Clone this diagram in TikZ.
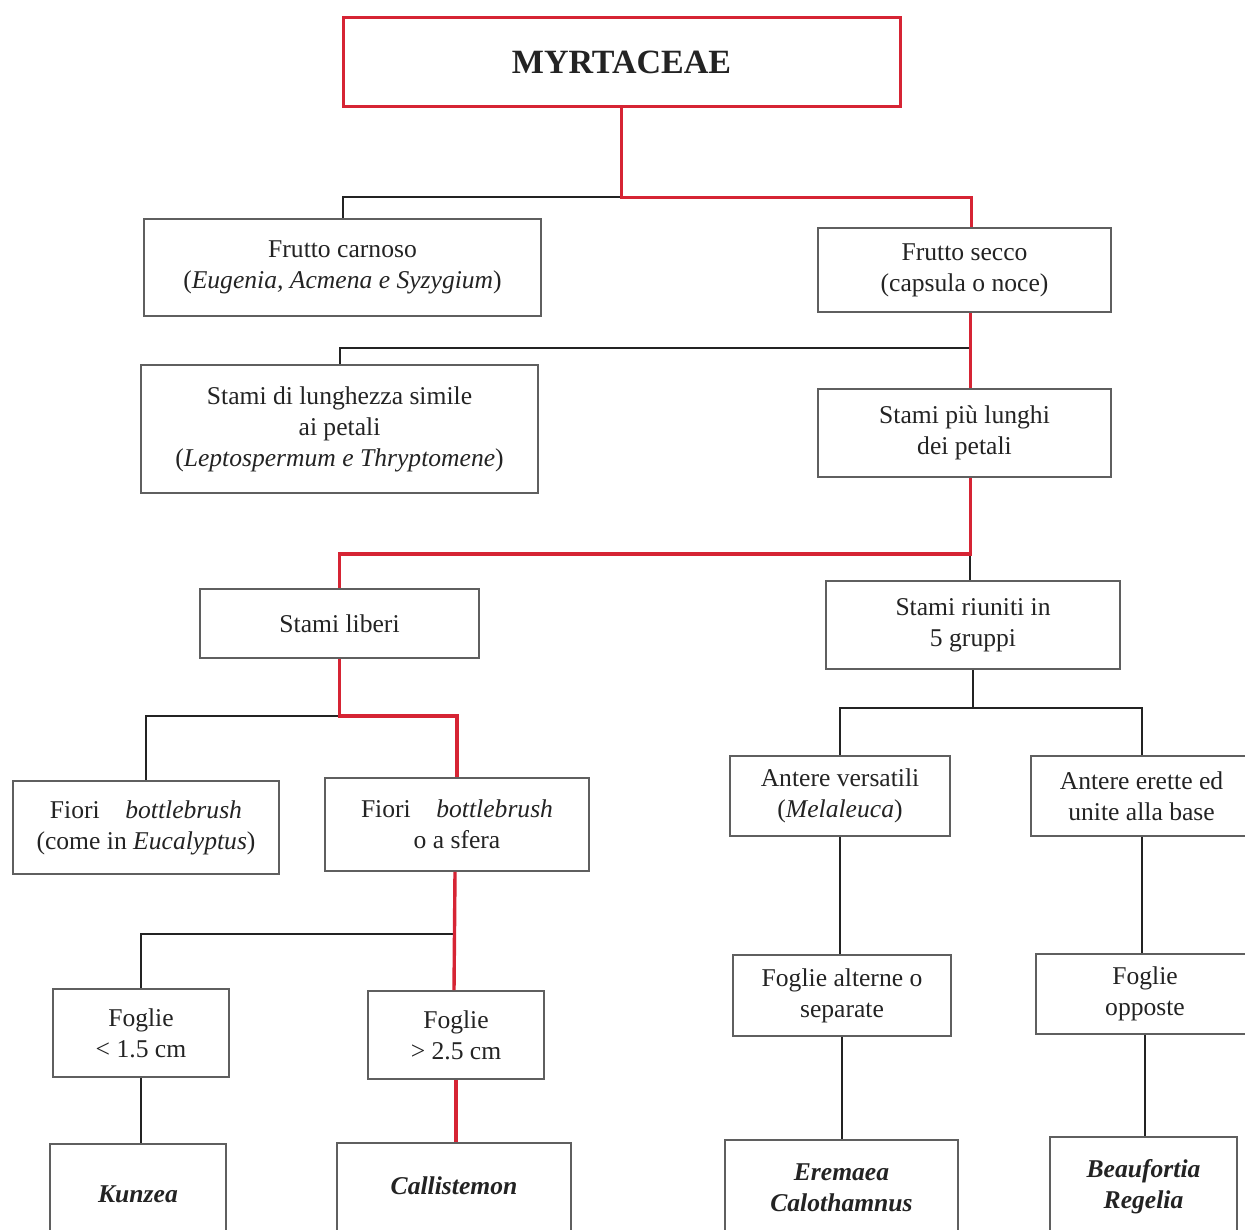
\documentclass[tikz,border=0pt]{standalone}
\usepackage{fontspec}
\setmainfont{Liberation Serif}
\definecolor{keyred}{RGB}{214,36,52}
\definecolor{boxgray}{RGB}{95,95,95}
\definecolor{inkgray}{RGB}{35,35,35}

\begin{document}
\begin{tikzpicture}[x=0.5pt, y=-0.5pt,
    box/.style={draw=boxgray, line width=0.9pt, rectangle, align=center, inner sep=0pt,
      text=inkgray, font=\fontsize{12.8}{15.5}\selectfont},
    genus/.style={box, font=\fontsize{12.8}{15.5}\selectfont\bfseries\itshape},
    redline/.style={draw=keyred, line width=1.7pt},
    blackline/.style={draw=inkgray, line width=1pt}]
  % Frame of the page, the last boxes run off the bottom
  \path[use as bounding box, clip] (0,0) rectangle (1245,1229);

  % Root
  \node[box, draw=keyred, line width=1.5pt, minimum width=278.5pt, minimum height=44.5pt,
    font=\fontsize{17}{20}\selectfont\bfseries] (root) at (621.5,62.5) {MYRTACEAE};

  % Fruit
  \node[box, minimum width=198.5pt, minimum height=48.5pt] (carnoso) at (342.5,267.5)
    {Frutto carnoso\\(\textit{Eugenia, Acmena e Syzygium})};
  \node[box, minimum width=146.5pt, minimum height=42pt] (secco) at (964.5,270)
    {Frutto secco\\(capsula o noce)};

  % Stamens
  \node[box, minimum width=198.5pt, minimum height=64pt] (simile) at (339.5,429)
    {Stami di lunghezza simile\\ai petali\\(\textit{Leptospermum e Thryptomene})};
  \node[box, minimum width=146.5pt, minimum height=44pt] (lunghi) at (964.5,433)
    {Stami più lunghi\\dei petali};
  \node[box, minimum width=139.5pt, minimum height=34.5pt] (liberi) at (339.5,623.5)
    {Stami liberi};
  \node[box, minimum width=147pt, minimum height=44pt] (riuniti) at (973,625)
    {Stami riuniti in\\5 gruppi};

  % Flowers and anthers
  \node[box, minimum width=133pt, minimum height=46.5pt] (eucal) at (146,827.5)
    {Fiori\quad\textit{bottlebrush}\\(come in \textit{Eucalyptus})};
  \node[box, minimum width=132pt, minimum height=46.5pt] (sfera) at (457,824.5)
    {Fiori\quad\textit{bottlebrush}\\o a sfera};
  \node[box, minimum width=110pt, minimum height=40pt] (versatili) at (840,796)
    {Antere versatili\\(\textit{Melaleuca})};
  \node[box, minimum width=110.5pt, minimum height=40pt] (erette) at (1141.5,796)
    {Antere erette ed\\unite alla base};

  % Leaves
  \node[box, minimum width=88pt, minimum height=44pt] (corte) at (141,1033)
    {Foglie\\< 1.5 cm};
  \node[box, minimum width=88pt, minimum height=44pt] (lunghe) at (456,1035)
    {Foglie\\> 2.5 cm};
  \node[box, minimum width=109pt, minimum height=40.5pt] (alterne) at (842,995.5)
    {Foglie alterne o\\separate};
  \node[box, minimum width=109pt, minimum height=40pt] (opposte) at (1145,994)
    {Foglie\\opposte};

  % Genera
  \node[genus, minimum width=88pt, minimum height=50pt] (kunzea) at (138,1194) {Kunzea};
  \node[genus, minimum width=117pt, minimum height=50pt] (callis) at (454,1193)
    {\raisebox{7pt}{Callistemon}};
  \node[genus, minimum width=116.5pt, minimum height=50pt] (eremaea) at (841.5,1190)
    {\raisebox{4pt}{\begin{tabular}{@{}c@{}}Eremaea\\Calothamnus\end{tabular}}};
  \node[genus, minimum width=93.5pt, minimum height=50pt] (beauf) at (1143.5,1187)
    {\raisebox{6pt}{\begin{tabular}{@{}c@{}}Beaufortia\\Regelia\end{tabular}}};

  % Black branches
  \draw[blackline] (root.south) ++(0,89) coordinate (j1) -| (carnoso.north);
  \draw[blackline] (secco.south) ++(6,35) coordinate (j2) -| (simile.north);
  \draw[blackline] (lunghi.south) ++(5,76) coordinate (j3) -- (j3 |- riuniti.north);
  \draw[blackline] (liberi.south) ++(0,57) coordinate (j4) -| (eucal.north);
  \draw[blackline] (sfera.south) ++(-2,62) coordinate (j5) -| (corte.north);
  \draw[blackline] (riuniti.south) -- ++(0,38) coordinate (j6) -| (versatili.north);
  \draw[blackline] (j6) -| (erette.north);
  \draw[blackline] (corte.south) -- (corte.south |- kunzea.north);
  \draw[blackline] (versatili.south) -- (versatili.south |- alterne.north);
  \draw[blackline] (alterne.south) -- (alterne.south |- eremaea.north);
  \draw[blackline] (erette.south) -- (erette.south |- opposte.north);
  \draw[blackline] (opposte.south) -- (opposte.south |- beauf.north);

  % Red path to Callistemon
  \draw[redline] (root.south) -- (j1) -| ([xshift=3.5pt]secco.north);
  \draw[redline] ([xshift=3pt]secco.south) -- ([xshift=3pt]lunghi.north);
  \draw[redline] ([xshift=3pt]lunghi.south) |- (j3) -| (liberi.north);
  \draw[redline] (liberi.south) -- (j4) -| (sfera.north);
  \draw[redline] ([xshift=-1pt]sfera.south) -- ([xshift=-1pt]lunghe.north);
  \draw[redline] (lunghe.south) -- (lunghe.south |- callis.north);
\end{tikzpicture}
\end{document}
